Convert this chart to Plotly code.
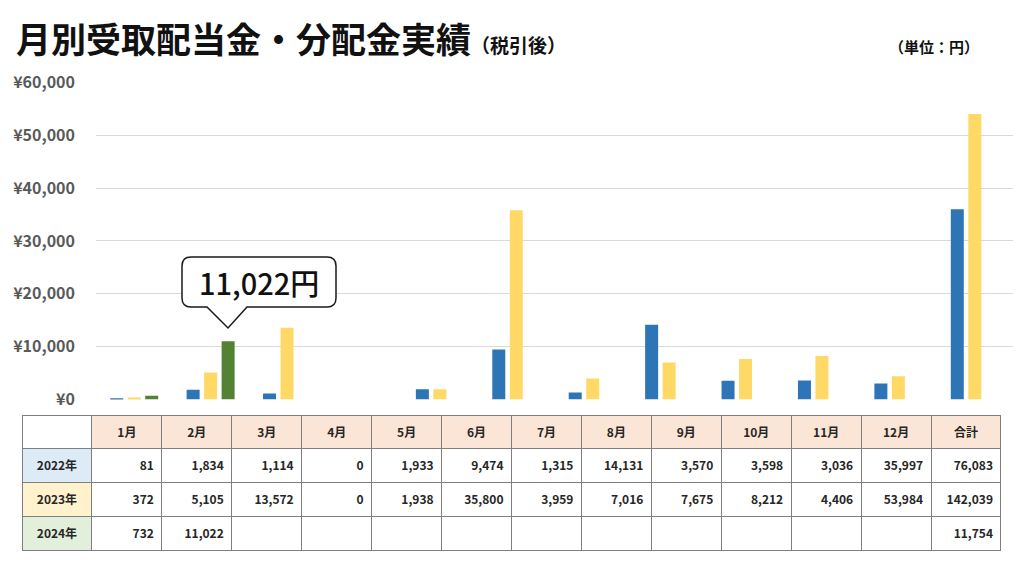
import plotly.graph_objects as go

months = ['1月', '2月', '3月', '4月', '5月', '6月', '7月', '8月', '9月', '10月', '11月', '12月']
years = ['2022年', '2023年', '2024年']
y2022 = [81, 1834, 1114, 0, 1933, 9474, 1315, 14131, 3570, 3598, 3036, 35997]
y2023 = [372, 5105, 13572, 0, 1938, 35800, 3959, 7016, 7675, 8212, 4406, 53984]
y2024 = [732, 11022, None, None, None, None, None, None, None, None, None, None]
total_label = '合計'
callout_text = '11,022円'

W, H = 1024, 576
def px(x):
    return x / W
def py(y):
    return 1 - y / H

FONT = 'Noto Sans CJK JP'
colors = {'2022年': '#2E75B6', '2023年': '#FFD966', '2024年': '#548235'}
row_fill = {'2022年': '#DDEBF7', '2023年': '#FFF2CC', '2024年': '#E2EFDA'}

fig = go.Figure()
for name, vals in zip(years, [y2022, y2023, y2024]):
    fig.add_trace(go.Bar(x=months, y=vals, name=name, marker=dict(color=colors[name], line=dict(width=0)),
                         showlegend=False, hoverinfo='skip'))

# table
def fmt(v):
    return '' if v is None else f'<b>{v:,}</b>'

series = [y2022, y2023, y2024]
totals = [sum(v for v in s if v is not None) for s in series]
cols = [[f'<b>{y}</b>' for y in years]]
for i in range(len(months)):
    cols.append([fmt(s[i]) for s in series])
cols.append([fmt(t) for t in totals])

header_vals = [''] + [f'<b>{m}</b>' for m in months] + [f'<b>{total_label}</b>']
fig.add_trace(go.Table(
    domain=dict(x=[px(22), px(1001)], y=[py(553), py(415)]),
    columnwidth=[1] * 14,
    header=dict(values=header_vals,
                fill=dict(color=['#FFFFFF'] + ['#FBE5D6'] * 13),
                line=dict(color='#7F7F7F', width=1),
                align='center', height=33,
                font=dict(family=FONT, size=12, color='#262626')),
    cells=dict(values=cols,
               fill=dict(color=[[row_fill[y] for y in years]] + [['#FFFFFF'] * 3] * 13),
               line=dict(color='#7F7F7F', width=1),
               align=['center'] + ['right'] * 13, height=34,
               font=dict(family=FONT, size=12, color='#262626'))
))

# callout shape (decoration)
x0, x1, y0, y1, r = 182, 336, 257, 307, 9
tl, tip_x, tr, tip_y = 207, 228, 247, 328
pts = (f"M {px(x0+r)},{py(y0)} L {px(x1-r)},{py(y0)} Q {px(x1)},{py(y0)} {px(x1)},{py(y0+r)} "
       f"L {px(x1)},{py(y1-r)} Q {px(x1)},{py(y1)} {px(x1-r)},{py(y1)} "
       f"L {px(tr)},{py(y1)} L {px(tip_x)},{py(tip_y)} L {px(tl)},{py(y1)} "
       f"L {px(x0+r)},{py(y1)} Q {px(x0)},{py(y1)} {px(x0)},{py(y1-r)} "
       f"L {px(x0)},{py(y0+r)} Q {px(x0)},{py(y0)} {px(x0+r)},{py(y0)} Z")
fig.add_shape(type='path', path=pts, xref='paper', yref='paper',
              fillcolor='white', line=dict(color='#1A1A1A', width=1.5), layer='above')

fig.add_annotation(text=callout_text, xref='paper', yref='paper', x=px(259), y=py(282),
                   xanchor='center', yanchor='middle', showarrow=False,
                   font=dict(family=FONT, size=29, color='#111111', weight=500))

fig.add_annotation(text='<b>月別受取配当金・分配金実績</b><span style="font-size:19px"><b>（税引後）</b></span>',
                   xref='paper', yref='paper', x=px(14), y=py(38), xanchor='left', yanchor='middle',
                   showarrow=False, font=dict(family=FONT, size=35, color='#111111'))
fig.add_annotation(text='<b>（単位：円）</b>', xref='paper', yref='paper', x=px(934), y=py(47),
                   xanchor='center', yanchor='middle', showarrow=False,
                   font=dict(family=FONT, size=15, color='#111111'))

fig.update_layout(
    width=W, height=H, margin=dict(l=0, r=0, t=0, b=0, autoexpand=False),
    paper_bgcolor='white', plot_bgcolor='white',
    barmode='group', bargap=0.313, bargroupgap=0.257,
    xaxis=dict(type='category', domain=[px(96), px(1013)], showticklabels=False, automargin=False,
               showgrid=False, zeroline=False, showline=False, fixedrange=True),
    yaxis=dict(range=[0, 60000], domain=[py(399.5), py(82.3)], dtick=10000, automargin=False,
               tickprefix='¥', tickformat=',d', gridcolor='#D9D9D9', gridwidth=1,
               zeroline=False, showline=False, ticks='', ticklabelstandoff=20,
               tickfont=dict(family=FONT, size=16, color='#595959', weight='bold')),
)

fig.write_html('out.html')
